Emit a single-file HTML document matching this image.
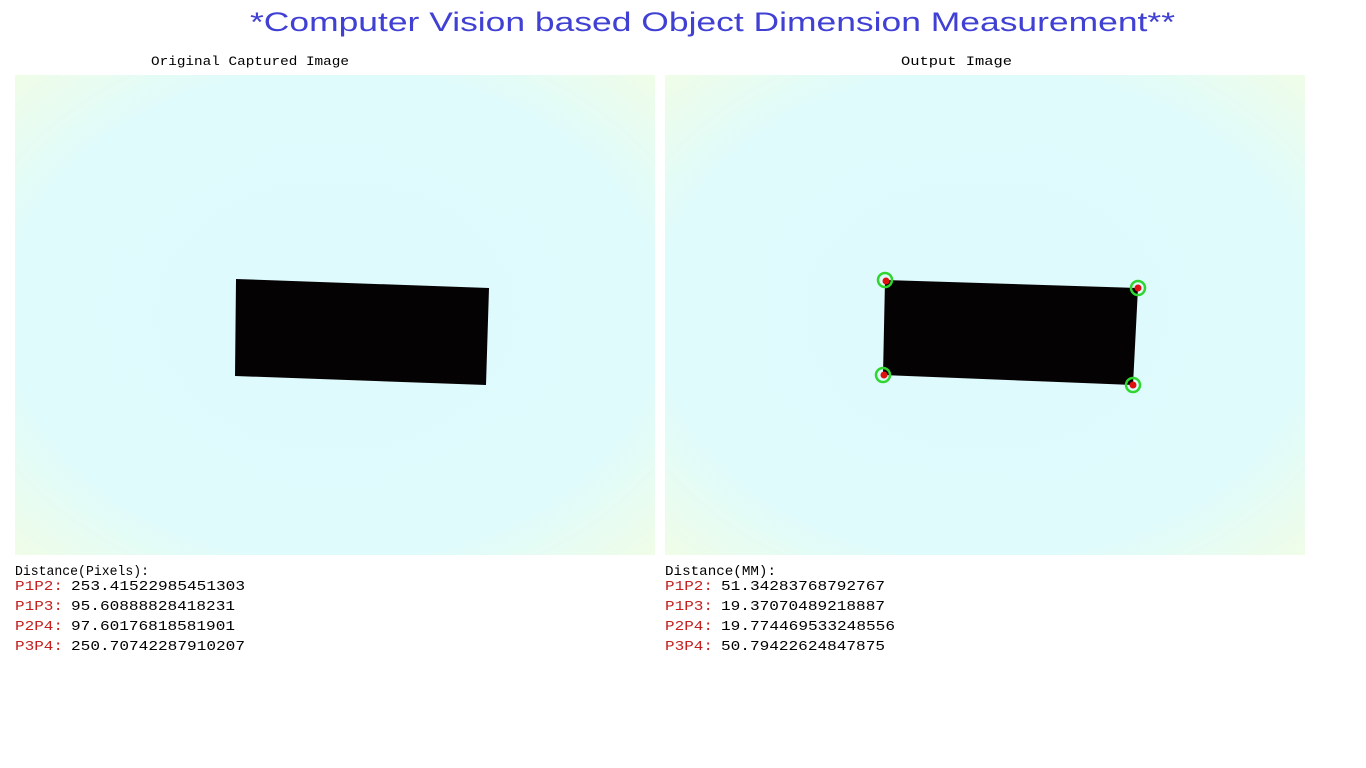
<!DOCTYPE html>
<html><head><meta charset="utf-8"><style>
html,body{margin:0;padding:0;background:#fff;width:1366px;height:768px;overflow:hidden}
</style></head><body>
<svg width="1366" height="768" viewBox="0 0 1366 768" xmlns="http://www.w3.org/2000/svg">
<defs>
<radialGradient id="bg" cx="50%" cy="50%" r="72%">
<stop offset="0" stop-color="#dffafc"/>
<stop offset="0.7" stop-color="#dffbfc"/>
<stop offset="1" stop-color="#f1fde6"/>
</radialGradient>
</defs>
<rect width="1366" height="768" fill="#fff"/>
<text x="250" y="31" font-family="Liberation Sans, sans-serif" font-size="27" fill="#4040d4" textLength="925" lengthAdjust="spacingAndGlyphs">*Computer Vision based Object Dimension Measurement**</text>
<g font-family="Liberation Mono, monospace" font-size="13">
<text x="151" y="65" textLength="198" lengthAdjust="spacingAndGlyphs">Original Captured Image</text>
<text x="901" y="65" textLength="111" lengthAdjust="spacingAndGlyphs">Output Image</text>
</g>
<rect x="15" y="75" width="640" height="480" fill="url(#bg)"/>
<rect x="665" y="75" width="640" height="480" fill="url(#bg)"/>
<polygon points="236,279 489,288 486,385 235,376" fill="#050204"/>
<polygon points="885,280 1138,288 1133,385 883,375" fill="#050204"/>
<g fill="none" stroke="#2fd62f" stroke-width="2.5">
<circle cx="885" cy="280" r="7"/><circle cx="1138" cy="288" r="7"/>
<circle cx="883" cy="375" r="7"/><circle cx="1133" cy="385" r="7"/>
</g>
<g fill="#e01010">
<circle cx="886" cy="281" r="3.5"/><circle cx="1138" cy="288" r="3.5"/>
<circle cx="884" cy="375" r="3.5"/><circle cx="1133" cy="385" r="3.5"/>
</g>
<g font-family="Liberation Mono, monospace" font-size="14" fill="#000">
<text x="15" y="575" textLength="134" lengthAdjust="spacingAndGlyphs">Distance(Pixels):</text>
<text x="665" y="575" textLength="111" lengthAdjust="spacingAndGlyphs">Distance(MM):</text>
<g fill="#c42020">
<text x="15" y="590" textLength="48" lengthAdjust="spacingAndGlyphs">P1P2:</text>
<text x="15" y="610" textLength="48" lengthAdjust="spacingAndGlyphs">P1P3:</text>
<text x="15" y="630" textLength="48" lengthAdjust="spacingAndGlyphs">P2P4:</text>
<text x="15" y="650" textLength="48" lengthAdjust="spacingAndGlyphs">P3P4:</text>
<text x="665" y="590" textLength="48" lengthAdjust="spacingAndGlyphs">P1P2:</text>
<text x="665" y="610" textLength="48" lengthAdjust="spacingAndGlyphs">P1P3:</text>
<text x="665" y="630" textLength="48" lengthAdjust="spacingAndGlyphs">P2P4:</text>
<text x="665" y="650" textLength="48" lengthAdjust="spacingAndGlyphs">P3P4:</text>
</g>
<text x="71" y="590" textLength="174" lengthAdjust="spacingAndGlyphs">253.41522985451303</text>
<text x="71" y="610" textLength="164" lengthAdjust="spacingAndGlyphs">95.60888828418231</text>
<text x="71" y="630" textLength="164" lengthAdjust="spacingAndGlyphs">97.60176818581901</text>
<text x="71" y="650" textLength="174" lengthAdjust="spacingAndGlyphs">250.70742287910207</text>
<text x="721" y="590" textLength="164" lengthAdjust="spacingAndGlyphs">51.34283768792767</text>
<text x="721" y="610" textLength="164" lengthAdjust="spacingAndGlyphs">19.37070489218887</text>
<text x="721" y="630" textLength="174" lengthAdjust="spacingAndGlyphs">19.774469533248556</text>
<text x="721" y="650" textLength="164" lengthAdjust="spacingAndGlyphs">50.79422624847875</text>
</g>
</svg>
</body></html>
